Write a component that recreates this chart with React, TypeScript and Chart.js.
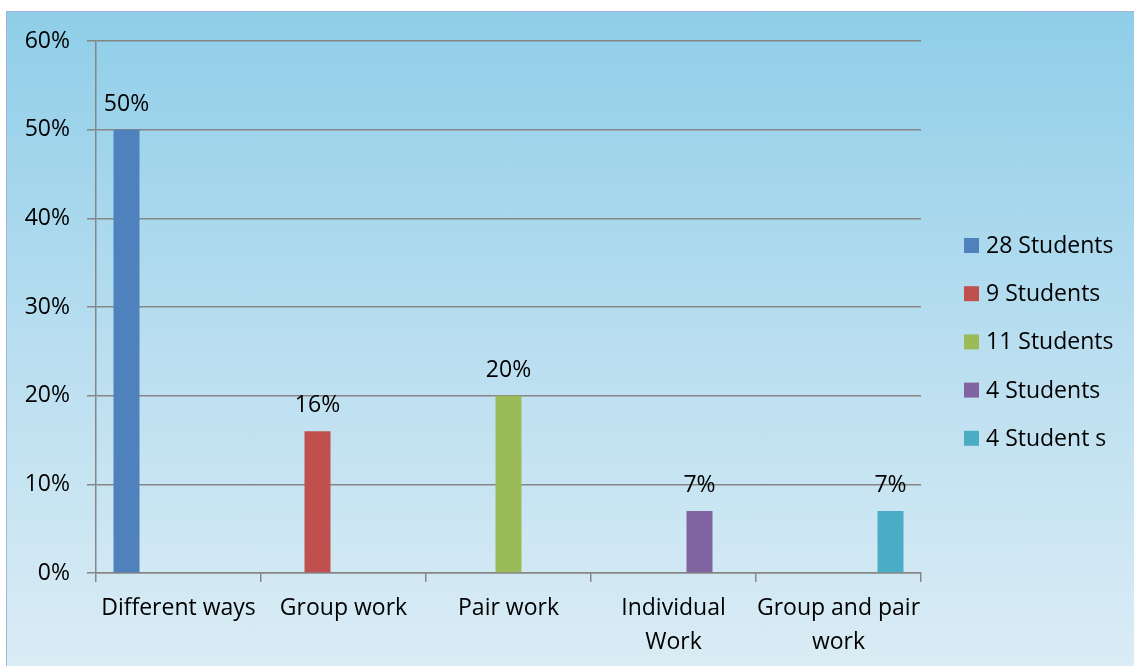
import React, { useEffect, useRef } from "react";
import { Chart, registerables } from "chart.js";

Chart.register(...registerables);

const categories: string[][] = [
  ["Different ways"],
  ["Group work"],
  ["Pair work"],
  ["Individual", "Work"],
  ["Group and pair", "work"],
];
const seriesLabels = ["28 Students", "9 Students", "11 Students", "4 Students", "4 Student s"];
const students28 = [50, null, null, null, null];
const students9 = [null, 16, null, null, null];
const students11 = [null, null, 20, null, null];
const students4a = [null, null, null, 7, null];
const students4b = [null, null, null, null, 7];
const seriesColors = ["#4f81bd", "#c0504d", "#9bbb59", "#8064a2", "#4bacc6"];
const yTicks = [0, 10, 20, 30, 40, 50, 60];

const FONT = "'Open Sans', 'Noto Sans', sans-serif";
const FS = 23;

const dataLabelPlugin = {
  id: "dataLabels",
  afterDatasetsDraw(chart: any) {
    const ctx = chart.ctx;
    ctx.save();
    ctx.font = `${FS}px ${FONT}`;
    ctx.fillStyle = "#000";
    ctx.textAlign = "center";
    ctx.textBaseline = "alphabetic";
    chart.data.datasets.forEach((ds: any, i: number) => {
      const meta = chart.getDatasetMeta(i);
      meta.data.forEach((el: any, j: number) => {
        const v = ds.data[j];
        if (v === null || v === undefined) return;
        ctx.fillText(`${v}%`, el.x, el.y - 19);
      });
    });
    ctx.restore();
  },
};

const legendPlugin = {
  id: "customLegend",
  afterDraw(chart: any) {
    const ctx = chart.ctx;
    ctx.save();
    ctx.font = `${FS}px ${FONT}`;
    ctx.textAlign = "left";
    ctx.textBaseline = "middle";
    chart.data.datasets.forEach((ds: any, i: number) => {
      const cy = 245.5 + i * 48.2;
      ctx.fillStyle = ds.backgroundColor;
      ctx.fillRect(964, cy - 7.5, 15, 15);
      ctx.fillStyle = "#000";
      ctx.fillText(ds.label, 986, cy + 1);
    });
    ctx.restore();
  },
};

export default function App() {
  const ref = useRef<HTMLCanvasElement>(null);
  useEffect(() => {
    const seriesData = [students28, students9, students11, students4a, students4b];
    const chart = new Chart(ref.current!, {
      type: "bar",
      data: {
        labels: categories,
        datasets: seriesLabels.map((label, i) => ({
          label,
          data: seriesData[i],
          backgroundColor: seriesColors[i],
          borderWidth: 0,
          categoryPercentage: 0.788,
          barPercentage: 1,
        })),
      },
      options: {
        animation: false,
        responsive: false,
        maintainAspectRatio: false,
        layout: { padding: { left: 0, top: 41, right: 213, bottom: 0 } },
        plugins: { legend: { display: false }, tooltip: { enabled: false } },
        scales: {
          x: {
            grid: {
              drawOnChartArea: false,
              drawTicks: true,
              tickLength: 9,
              color: "#868686",
              lineWidth: 1.5,
            },
            border: { display: true, color: "#868686", width: 1.5 },
            ticks: {
              color: "#000",
              padding: 9,
              maxRotation: 0,
              autoSkip: false,
              font: { family: FONT, size: FS, lineHeight: 1.48 },
            },
            afterFit(scale: any) {
              scale.height = 93;
            },
          },
          y: {
            min: 0,
            max: 60,
            afterBuildTicks(scale: any) {
              scale.ticks = yTicks.map((v) => ({ value: v }));
            },
            grid: {
              color: "#868686",
              lineWidth: 1.5,
              tickLength: 9,
              drawTicks: true,
            },
            border: { display: true, color: "#868686", width: 1.5 },
            ticks: {
              color: "#000",
              padding: 17,
              font: { family: FONT, size: FS },
              callback: (v: any) => `${v}%`,
            },
            afterFit(scale: any) {
              scale.width = 96;
            },
          },
        },
      },
      plugins: [dataLabelPlugin, legendPlugin],
    });
    return () => chart.destroy();
  }, []);

  return (
    <div style={{ position: "fixed", left: 0, top: 0, width: 1134, height: 666, background: "#fff", overflow: "hidden" }}>
      <div
        style={{
          position: "absolute",
          left: 6,
          top: 11,
          width: 1140,
          height: 670,
          borderLeft: "1px solid #a3b4df",
          borderTop: "1px solid #a3b4df",
          background: "linear-gradient(to bottom, #8fcee8 0%, #b9def0 50%, #dcedf5 100%)",
        }}
      />
      <canvas ref={ref} width={1134} height={666} style={{ position: "absolute", left: 0, top: 0, width: 1134, height: 666 }} />
    </div>
  );
}
